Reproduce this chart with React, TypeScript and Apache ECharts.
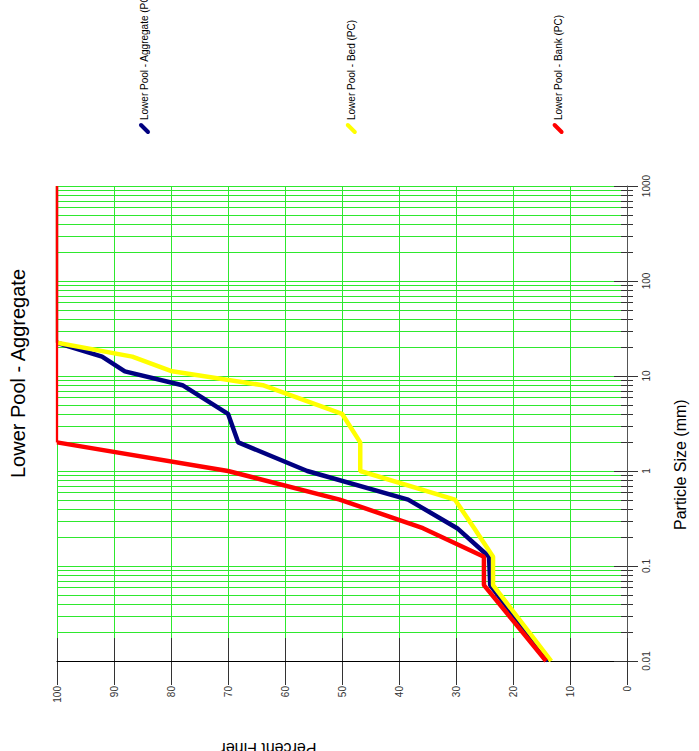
import React, { useEffect, useRef } from "react";
import * as echarts from "echarts";

// Particle sizes (mm) at which the percent-finer values were read
const SIZES = [0.01, 0.063, 0.125, 0.25, 0.5, 1, 2, 4, 8, 11.2, 16, 22.4];
// Percent finer for each series (same order as SIZES; Bank reaches 100 % at 2 mm)
const AGGREGATE = [13.8, 24.0, 24.2, 29.8, 38.4, 56.1, 68.2, 70.0, 78.0, 88.1, 92.1, 100];
const BED = [13.3, 23.5, 23.5, 26.8, 30.2, 46.8, 46.8, 50.0, 63.9, 79.8, 86.8, 100];
const BANK = [14.2, 25.1, 25.1, 35.8, 50.4, 70.0, 100];
// Largest size drawn: every series stays at 100 % up to it
const MAX_SIZE = 1000;

const SERIES_NAMES = ["Lower Pool - Aggregate (PC)", "Lower Pool - Bed (PC)", "Lower Pool - Bank (PC)"];
const SERIES_COLORS = ["#000080", "#ffff00", "#ff0000"];

// Log-axis decades and minor multiples used for the minor grid
const DECADES = [0.01, 0.1, 1, 10, 100];
const MINOR_MULTIPLES = [2, 3, 4, 5, 6, 7, 8, 9];

const TITLE = "Lower Pool - Aggregate";
const X_TITLE = "Particle Size (mm)";
const Y_TITLE = "Percent Finer";

const FONT = "'Liberation Sans', Arial, sans-serif";
const GREEN = "#2ee82e";
const AXIS_COLOR = "#333";

export default function App() {
  const ref = useRef<HTMLDivElement>(null);

  useEffect(() => {
    if (!ref.current) return;
    const chart = echarts.init(ref.current, undefined, { renderer: "svg" });

    const minorValues: number[][] = [];
    DECADES.forEach((d) => MINOR_MULTIPLES.forEach((m) => minorValues.push([0, +(d * m).toPrecision(6)])));

    const pair = (vals: number[]) => vals.map((p, i) => [p, SIZES[i]]);

    const logFmt = (v: number) => String(+Number(v).toPrecision(4));

    const seriesList = [AGGREGATE, BED, BANK].map((vals, i) => {
      const data = pair(vals);
      const last = data[data.length - 1];
      return {
        type: "line",
        name: SERIES_NAMES[i],
        xAxisIndex: 0,
        yAxisIndex: 0,
        z: 3,
        data,
        showSymbol: false,
        symbol: "none",
        clip: true,
        lineStyle: { color: SERIES_COLORS[i], width: 4.5 },
        itemStyle: { color: SERIES_COLORS[i] },
        markLine: {
          silent: true,
          symbol: "none",
          label: { show: false },
          lineStyle: { color: SERIES_COLORS[i], width: 2.3, type: "solid" },
          data: [[{ coord: [last[0], last[1]] }, { coord: [last[0], MAX_SIZE] }]],
        },
      };
    });

    const option: any = {
      animation: false,
      backgroundColor: "#ffffff",
      grid: { left: 57, right: 72, top: 186, bottom: 90, containLabel: false },
      xAxis: [
        {
          type: "value",
          min: 0,
          max: 100,
          interval: 10,
          inverse: true,
          position: "bottom",
          axisLine: { show: false },
          axisTick: { show: true, length: 24, lineStyle: { color: AXIS_COLOR, width: 1 } },
          axisLabel: {
            rotate: 90,
            margin: 25,
            fontSize: 10,
            fontFamily: FONT,
            color: AXIS_COLOR,
            showMinLabel: true,
            showMaxLabel: true,
          },
          splitLine: { show: true, lineStyle: { color: GREEN, width: 1 } },
        },
        {
          type: "value",
          min: 0,
          max: 100,
          interval: 10,
          inverse: true,
          position: "bottom",
          z: 1,
          axisLine: { show: true, lineStyle: { color: "#000", width: 1 } },
          axisTick: { show: true, inside: true, length: 23, lineStyle: { color: AXIS_COLOR, width: 1 } },
          axisLabel: { show: false },
          splitLine: { show: false },
        },
      ],
      yAxis: [
        {
          type: "log",
          logBase: 10,
          min: 0.01,
          max: 1000,
          position: "right",
          axisLine: { show: false },
          axisTick: { show: true, length: 11, lineStyle: { color: AXIS_COLOR, width: 1 } },
          axisLabel: {
            rotate: 90,
            margin: 14,
            fontSize: 10,
            fontFamily: FONT,
            color: AXIS_COLOR,
            formatter: logFmt,
            showMinLabel: true,
            showMaxLabel: true,
          },
          splitLine: { show: true, lineStyle: { color: GREEN, width: 1 } },
        },
        {
          type: "log",
          logBase: 10,
          min: 0.01,
          max: 1000,
          position: "right",
          z: 1,
          axisLine: { show: true, lineStyle: { color: "#555", width: 1 } },
          axisTick: { show: true, inside: true, length: 13, lineStyle: { color: AXIS_COLOR, width: 1 } },
          axisLabel: { show: false },
          splitLine: { show: false },
        },
      ],
      series: [
        {
          type: "custom",
          name: "minor-grid",
          xAxisIndex: 0,
          yAxisIndex: 0,
          z: 1,
          silent: true,
          data: minorValues,
          renderItem: (params: any, api: any) => {
            const v = api.value(1);
            const a = api.coord([100, v]);
            const b = api.coord([0, v]);
            const y = Math.round(a[1]) + 0.5;
            return {
              type: "group",
              children: [
                {
                  type: "line",
                  shape: { x1: a[0], y1: y, x2: b[0], y2: y },
                  style: { stroke: GREEN, lineWidth: 1 },
                },
                {
                  type: "line",
                  shape: { x1: b[0] - 6, y1: y, x2: b[0] + 6, y2: y },
                  style: { stroke: AXIS_COLOR, lineWidth: 1 },
                },
              ],
            };
          },
        },
        ...seriesList,
      ],
      graphic: [
        {
          type: "text",
          x: 18,
          y: 373.5,
          rotation: Math.PI / 2,
          style: {
            text: TITLE,
            fontSize: 20,
            fontFamily: FONT,
            fill: "#000",
            textAlign: "center",
            textVerticalAlign: "middle",
          },
        },
        {
          type: "text",
          x: 680.5,
          y: 530,
          rotation: Math.PI / 2,
          style: {
            text: X_TITLE,
            fontSize: 16,
            fontFamily: FONT,
            fill: "#000",
            textAlign: "left",
            textVerticalAlign: "middle",
          },
        },
        {
          type: "text",
          x: 268.5,
          y: 748,
          rotation: Math.PI,
          style: {
            text: Y_TITLE,
            fontSize: 16,
            fontFamily: FONT,
            fill: "#000",
            textAlign: "center",
            textVerticalAlign: "middle",
          },
        },
        ...SERIES_NAMES.flatMap((name, i) => {
          const cx = 144.5 + i * 206.8;
          return [
            {
              type: "line",
              shape: { x1: cx - 3.5, y1: 125, x2: cx + 3.5, y2: 132 },
              style: { stroke: SERIES_COLORS[i], lineWidth: 4, lineCap: "round" },
            },
            {
              type: "text",
              x: cx,
              y: 120,
              rotation: Math.PI / 2,
              style: {
                text: name,
                fontSize: 10,
                fontFamily: FONT,
                fill: "#000",
                textAlign: "left",
                textVerticalAlign: "middle",
              },
            },
          ];
        }),
      ],
    };

    chart.setOption(option);
    return () => chart.dispose();
  }, []);

  return (
    <div
      ref={ref}
      style={{ position: "absolute", left: 0, top: 0, width: 699, height: 751, background: "#fff" }}
    />
  );
}
